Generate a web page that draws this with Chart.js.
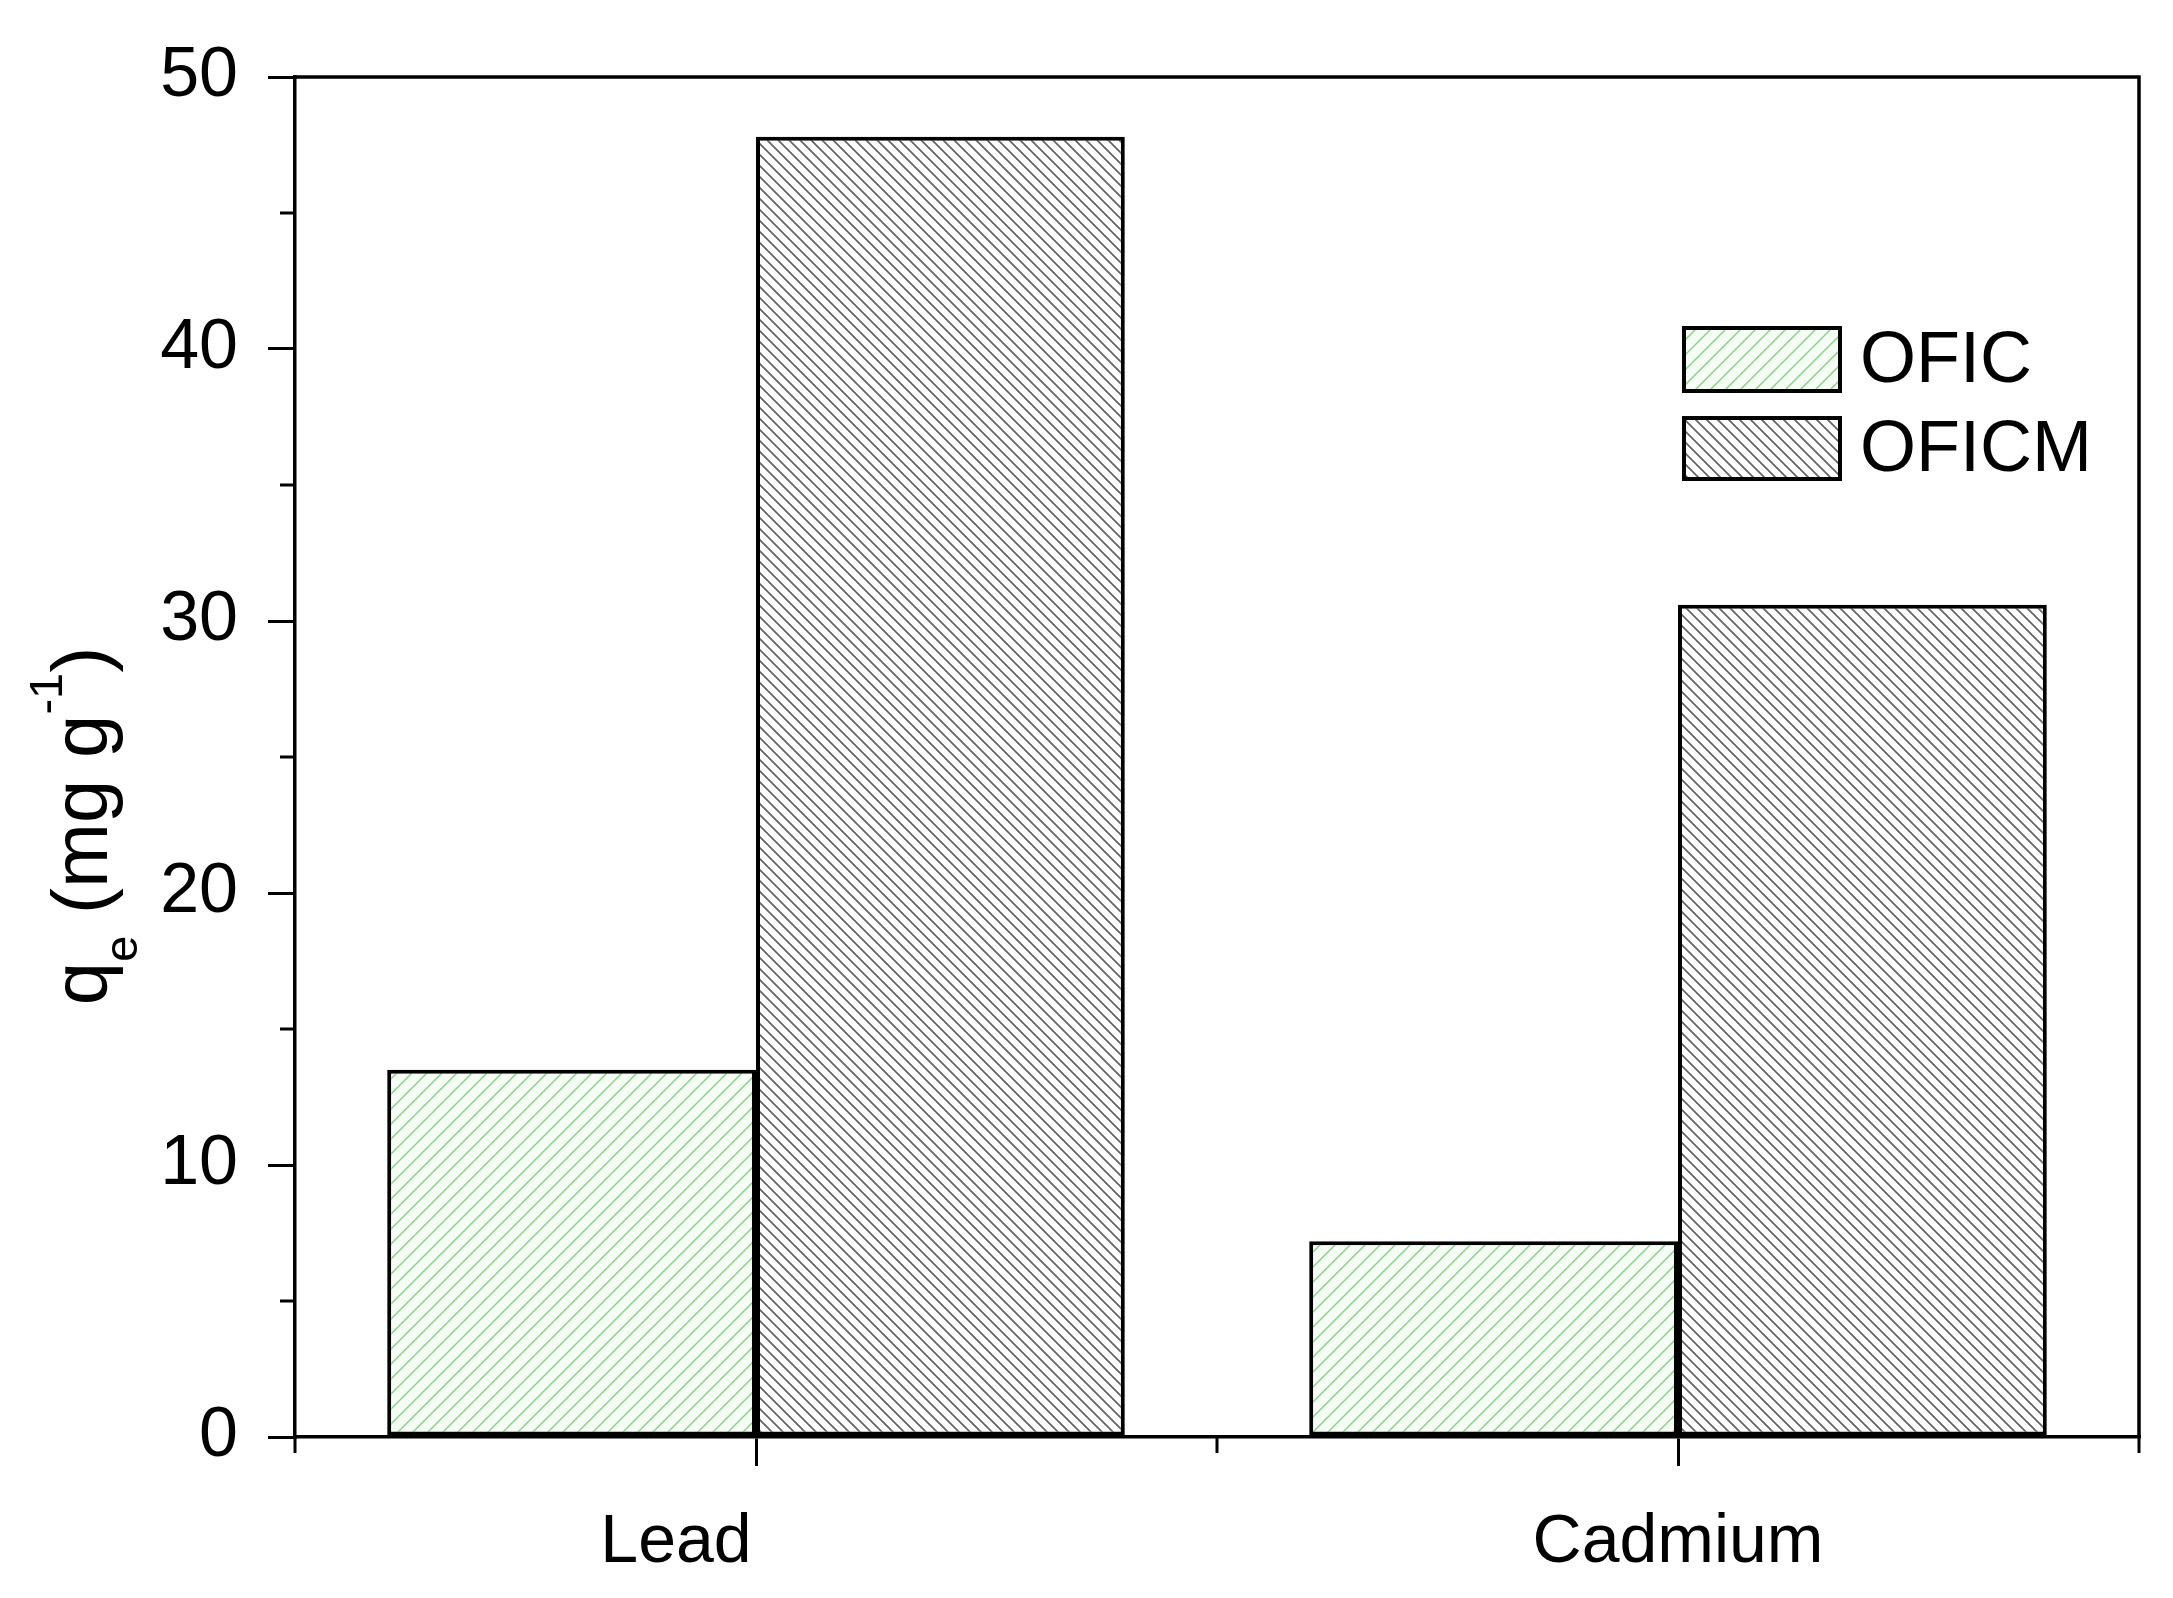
<!DOCTYPE html>
<html>
<head>
<meta charset="utf-8">
<script src="https://cdn.jsdelivr.net/npm/chart.js@4/dist/chart.umd.min.js"></script>
<style>
  html, body { margin: 0; padding: 0; background: #fff; }
  #wrap { width: 2173px; height: 1598px; }
</style>
</head>
<body>
<div id="wrap"><canvas id="chart1" width="2173" height="1598"></canvas></div>
<script>
const categories = ['Lead', 'Cadmium'];
const seriesNames = ['OFIC', 'OFICM'];
const oficValues = [13.5, 7.2];
const oficmValues = [47.8, 30.6];
const yMin = 0;
const yMax = 50;
const yStep = 10;

const FONT = '"Liberation Sans", Arial, sans-serif';

function hatch(size, bg, color, width, dir) {
    const c = document.createElement('canvas');
    c.width = size;
    c.height = size;
    const g = c.getContext('2d');
    g.fillStyle = bg;
    g.fillRect(0, 0, size, size);
    g.strokeStyle = color;
    g.lineWidth = width;
    g.beginPath();
    if (dir === '/') {
        g.moveTo(-size, size * 2); g.lineTo(size * 2, -size);
        g.moveTo(-size, size); g.lineTo(size, -size);
        g.moveTo(0, size * 2); g.lineTo(size * 2, 0);
    } else {
        g.moveTo(-size, -size); g.lineTo(size * 2, size * 2);
        g.moveTo(-size, 0); g.lineTo(size, size * 2);
        g.moveTo(0, -size); g.lineTo(size * 2, size);
    }
    g.stroke();
    return document.getElementById('chart1').getContext('2d').createPattern(c, 'repeat');
}

const greenHatch = hatch(15, '#f5fdf5', 'rgba(120,205,120,0.9)', 1.4, '/');
const grayHatch = hatch(11, '#ffffff', 'rgba(60,60,60,0.8)', 1.7, '\\');

// frame, minor ticks, x labels, y title, legend
const decor = {
    id: 'decor',
    afterDraw(chart) {
        const ctx = chart.ctx;
        const a = chart.chartArea;
        const ys = chart.scales.y;
        const xs = chart.scales.x;
        ctx.save();
        ctx.strokeStyle = '#000';
        ctx.lineWidth = 3.5;
        ctx.beginPath();
        ctx.moveTo(a.left - 1.5, a.top);
        ctx.lineTo(a.right, a.top);
        ctx.lineTo(a.right, a.bottom);
        ctx.stroke();

        // minor ticks
        ctx.lineWidth = 3;
        ctx.beginPath();
        for (let v = yMin + yStep / 2; v < yMax; v += yStep) {
            const y = ys.getPixelForValue(v);
            ctx.moveTo(a.left, y);
            ctx.lineTo(a.left - 15, y);
        }
        const half = (xs.getPixelForValue(1) - xs.getPixelForValue(0)) / 2;
        for (let i = 0; i <= categories.length; i++) {
            const x = xs.getPixelForValue(0) - half + i * 2 * half;
            ctx.moveTo(x, a.bottom);
            ctx.lineTo(x, a.bottom + 16);
        }
        ctx.stroke();

        // category labels
        const labelShift = [-80, 0];
        ctx.fillStyle = '#000';
        ctx.font = '68px ' + FONT;
        ctx.textAlign = 'center';
        ctx.textBaseline = 'alphabetic';
        categories.forEach((c, i) => {
            ctx.fillText(c, xs.getPixelForValue(i) + labelShift[i], 1562);
        });

        // y axis title
        ctx.save();
        ctx.translate(107, 826);
        ctx.rotate(-Math.PI / 2);
        const big = '78px ' + FONT;
        const small = '47px ' + FONT;
        const parts = [
            { t: 'q', f: big, dy: 0 },
            { t: 'e', f: small, dy: 30 },
            { t: ' (mg g', f: big, dy: 0 },
            { t: '-1', f: small, dy: -45 },
            { t: ')', f: big, dy: 0 }
        ];
        let total = 0;
        parts.forEach(p => { ctx.font = p.f; p.w = ctx.measureText(p.t).width; total += p.w; });
        let x = -total / 2;
        ctx.textAlign = 'left';
        parts.forEach(p => {
            ctx.font = p.f;
            ctx.fillText(p.t, x, p.dy);
            x += p.w;
        });
        ctx.restore();

        // legend
        const boxes = [[1684, 328, 156, 63], [1684, 418, 156, 61]];
        ctx.font = '72px ' + FONT;
        ctx.textAlign = 'left';
        ctx.textBaseline = 'middle';
        chart.data.datasets.forEach((ds, i) => {
            const [bx, by, bw, bh] = boxes[i];
            ctx.fillStyle = ds.backgroundColor;
            ctx.fillRect(bx, by, bw, bh);
            ctx.lineWidth = 4;
            ctx.strokeStyle = '#000';
            ctx.strokeRect(bx, by, bw, bh);
            ctx.fillStyle = '#000';
            ctx.fillText(ds.label, bx + bw + 20, by + bh / 2 + 3);
        });
        ctx.restore();
    }
};

let barChart = new Chart(document.getElementById('chart1').getContext('2d'), {
    type: 'bar',
    data: {
        labels: categories,
        datasets: [{
            label: seriesNames[0],
            data: oficValues,
            backgroundColor: greenHatch,
            borderColor: '#000',
            borderWidth: 4,
            borderSkipped: false
        },
        {
            label: seriesNames[1],
            data: oficmValues,
            backgroundColor: grayHatch,
            borderColor: '#000',
            borderWidth: 4,
            borderSkipped: false
        }]
    },
    options: {
        responsive: false,
        animation: false,
        events: [],
        layout: { padding: { left: 0, right: 34, top: 77, bottom: 0 } },
        datasets: { bar: { categoryPercentage: 0.8, barPercentage: 1.0 } },
        plugins: {
            legend: { display: false },
            tooltip: { enabled: false }
        },
        scales: {
            x: {
                offset: true,
                grid: {
                    offset: false,
                    drawOnChartArea: false,
                    color: '#000',
                    lineWidth: 3,
                    tickLength: 29
                },
                border: { color: '#000', width: 3.5 },
                ticks: { display: false },
                afterFit(scale) { scale.height = 161; }
            },
            y: {
                min: yMin,
                max: yMax,
                grid: {
                    drawOnChartArea: false,
                    color: '#000',
                    lineWidth: 3,
                    tickLength: 27
                },
                border: { color: '#000', width: 3.5 },
                ticks: {
                    stepSize: yStep,
                    color: '#000',
                    padding: 30,
                    font: { family: FONT, size: 70 }
                },
                afterFit(scale) { scale.width = 295; }
            }
        }
    },
    plugins: [decor]
});
</script>
</body>
</html>
